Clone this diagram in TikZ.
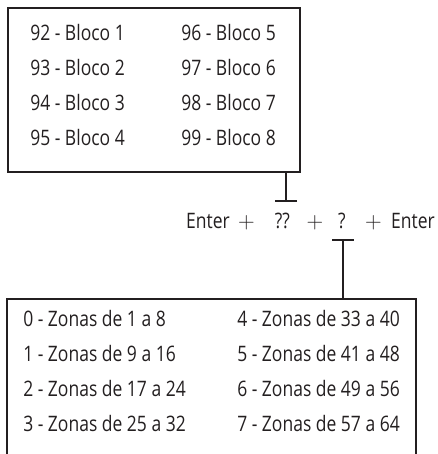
\documentclass[tikz,border=0pt]{standalone}
\usepackage{fontspec}
\setmainfont{Open Sans}[FakeStretch=0.82]
\usetikzlibrary{arrows.meta,fit}
\definecolor{cInk}{RGB}{35,31,32}
\tikzset{
  framebox/.style={rectangle,draw=cInk,line width=1.5pt,inner sep=0pt},
  entry/.style={anchor=base west,inner sep=0pt,text=cInk,
                font=\fontsize{16}{18}\selectfont},
  keyitem/.style={entry,anchor=base},
  teeline/.style={draw=cInk,line width=1.5pt,-{Bar[width=16.5pt]}}
}
\begin{document}
\begin{tikzpicture}[x=0.75pt,y=-0.75pt]
  \useasboundingbox (0,0) rectangle (437,454);
  \clip (0,0) rectangle (437,454);

  % block selection
  \node[framebox,fit={(8,8) (300,172)}] (blocos) {};
  \node[entry] (b92) at (30,40)  {92 - Bloco 1};
  \node[entry] (b93) at (30,75)  {93 - Bloco 2};
  \node[entry] (b94) at (30,110) {94 - Bloco 3};
  \node[entry] (b95) at (30,145) {95 - Bloco 4};
  \node[entry] (b96) at (181,40)  {96 - Bloco 5};
  \node[entry] (b97) at (181,75)  {97 - Bloco 6};
  \node[entry] (b98) at (181,110) {98 - Bloco 7};
  \node[entry] (b99) at (181,145) {99 - Bloco 8};

  % key sequence
  \node[keyitem] (ent1) at (208,228) {Enter};
  \node[keyitem] (pl1)  at (246.5,228) {$+$};
  \node[keyitem] (qq)   at (282.5,228) {??};
  \node[keyitem] (pl2)  at (315,228) {$+$};
  \node[keyitem] (q)    at (342,228) {?};
  \node[keyitem] (pl3)  at (373.5,228) {$+$};
  \node[keyitem] (ent2) at (413,228) {Enter};

  % zone selection (open at the bottom edge)
  \node[framebox,fit={(7,299) (416,480)}] (zonas) {};
  \node[entry] (z0) at (23,326) {0 - Zonas de 1 a 8};
  \node[entry] (z1) at (23,361) {1 - Zonas de 9 a 16};
  \node[entry] (z2) at (23,396) {2 - Zonas de 17 a 24};
  \node[entry] (z3) at (23,431) {3 - Zonas de 25 a 32};
  \node[entry] (z4) at (237,326) {4 - Zonas de 33 a 40};
  \node[entry] (z5) at (237,361) {5 - Zonas de 41 a 48};
  \node[entry] (z6) at (237,396) {6 - Zonas de 49 a 56};
  \node[entry] (z7) at (237,431) {7 - Zonas de 57 a 64};

  \coordinate (tq) at (286,202);
  \coordinate (tz) at (343,239);
  \draw[teeline] (blocos.south -| tq) -- (tq);
  \draw[teeline] (zonas.north -| tz) -- (tz);
\end{tikzpicture}
\end{document}
